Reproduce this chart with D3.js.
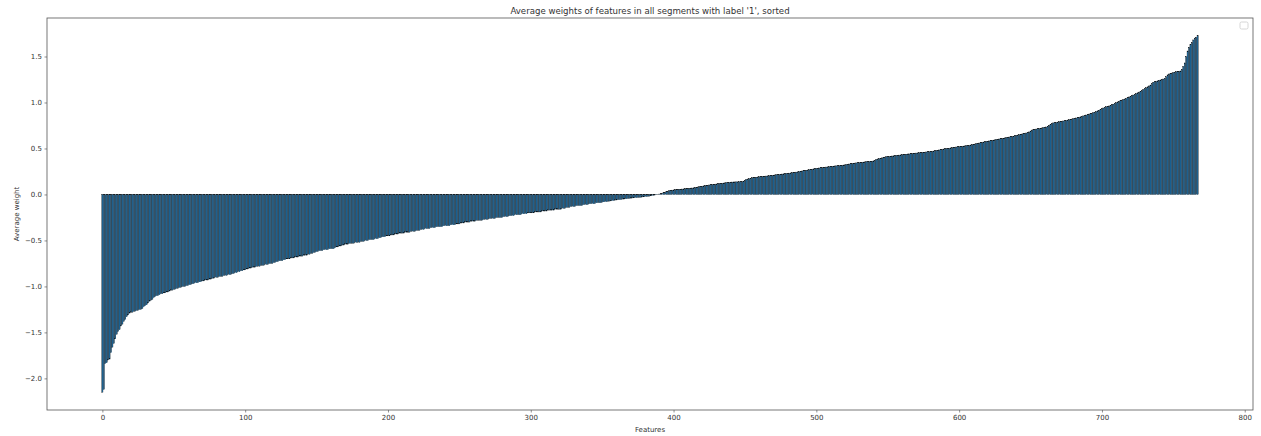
<!DOCTYPE html>
<html>
<head>
<meta charset="utf-8">
<script src="https://cdn.jsdelivr.net/npm/d3@7"></script>
<style>
  html, body { margin: 0; padding: 0; background: #fff; }
  svg { display: block; }
  text { font-family: "DejaVu Sans", sans-serif; fill: #333; }
</style>
</head>
<body>
<svg id="chart" width="1261" height="436"></svg>
<script>
const titleText = "Average weights of features in all segments with label '1', sorted";
const xLabel = "Features";
const yLabel = "Average weight";
const xTicks = [0, 100, 200, 300, 400, 500, 600, 700, 800];
const yTicks = [-2.0, -1.5, -1.0, -0.5, 0.0, 0.5, 1.0, 1.5];

const values = [
-2.15,-2.12,-1.84,-1.83,-1.80,-1.79,-1.72,-1.66,-1.62,-1.57,
-1.52,-1.49,-1.47,-1.43,-1.41,-1.38,-1.36,-1.33,-1.31,-1.29,
-1.28,-1.28,-1.27,-1.27,-1.26,-1.26,-1.25,-1.25,-1.24,-1.22,
-1.21,-1.20,-1.18,-1.16,-1.15,-1.14,-1.12,-1.11,-1.10,-1.10,
-1.09,-1.08,-1.08,-1.07,-1.07,-1.06,-1.06,-1.05,-1.04,-1.04,
-1.03,-1.03,-1.02,-1.02,-1.01,-1.01,-1.00,-1.00,-1.00,-0.99,
-0.99,-0.98,-0.98,-0.97,-0.97,-0.96,-0.96,-0.96,-0.95,-0.95,
-0.94,-0.94,-0.93,-0.93,-0.93,-0.92,-0.92,-0.91,-0.91,-0.90,
-0.90,-0.90,-0.89,-0.89,-0.89,-0.88,-0.88,-0.88,-0.87,-0.87,
-0.87,-0.86,-0.86,-0.85,-0.85,-0.84,-0.84,-0.83,-0.83,-0.82,
-0.82,-0.81,-0.81,-0.80,-0.80,-0.79,-0.79,-0.79,-0.78,-0.78,
-0.78,-0.77,-0.77,-0.77,-0.76,-0.76,-0.76,-0.75,-0.75,-0.75,
-0.74,-0.74,-0.73,-0.73,-0.72,-0.72,-0.72,-0.71,-0.71,-0.70,
-0.70,-0.70,-0.69,-0.69,-0.69,-0.68,-0.68,-0.68,-0.67,-0.67,
-0.67,-0.66,-0.66,-0.66,-0.65,-0.65,-0.64,-0.64,-0.63,-0.63,
-0.62,-0.62,-0.61,-0.61,-0.61,-0.60,-0.60,-0.60,-0.60,-0.59,
-0.59,-0.59,-0.59,-0.58,-0.57,-0.57,-0.56,-0.56,-0.55,-0.55,
-0.54,-0.54,-0.54,-0.53,-0.53,-0.53,-0.53,-0.52,-0.52,-0.52,
-0.52,-0.51,-0.51,-0.51,-0.50,-0.50,-0.50,-0.49,-0.49,-0.49,
-0.49,-0.48,-0.48,-0.48,-0.47,-0.47,-0.46,-0.46,-0.46,-0.45,
-0.45,-0.45,-0.44,-0.44,-0.44,-0.43,-0.43,-0.43,-0.42,-0.42,
-0.42,-0.42,-0.41,-0.41,-0.41,-0.41,-0.40,-0.40,-0.40,-0.40,
-0.39,-0.39,-0.39,-0.38,-0.38,-0.38,-0.37,-0.37,-0.37,-0.37,
-0.36,-0.36,-0.36,-0.36,-0.35,-0.35,-0.35,-0.35,-0.35,-0.34,
-0.34,-0.34,-0.34,-0.34,-0.33,-0.33,-0.33,-0.33,-0.32,-0.32,
-0.32,-0.31,-0.31,-0.31,-0.30,-0.30,-0.30,-0.30,-0.29,-0.29,
-0.29,-0.29,-0.28,-0.28,-0.28,-0.28,-0.28,-0.27,-0.27,-0.27,
-0.27,-0.26,-0.26,-0.26,-0.26,-0.26,-0.25,-0.25,-0.25,-0.25,
-0.25,-0.24,-0.24,-0.24,-0.24,-0.23,-0.23,-0.23,-0.23,-0.22,
-0.22,-0.22,-0.22,-0.22,-0.21,-0.21,-0.21,-0.21,-0.20,-0.20,
-0.20,-0.20,-0.20,-0.19,-0.19,-0.19,-0.19,-0.19,-0.18,-0.18,
-0.18,-0.18,-0.17,-0.17,-0.17,-0.17,-0.17,-0.16,-0.16,-0.16,
-0.16,-0.16,-0.15,-0.15,-0.15,-0.14,-0.14,-0.14,-0.13,-0.13,
-0.13,-0.13,-0.12,-0.12,-0.12,-0.12,-0.12,-0.11,-0.11,-0.11,
-0.11,-0.10,-0.10,-0.10,-0.10,-0.10,-0.09,-0.09,-0.09,-0.09,
-0.085,-0.08,-0.08,-0.078,-0.075,-0.072,-0.07,-0.068,-0.065,-0.062,
-0.06,-0.058,-0.056,-0.055,-0.052,-0.05,-0.048,-0.046,-0.044,-0.042,
-0.04,-0.039,-0.037,-0.036,-0.034,-0.032,-0.031,-0.03,-0.028,-0.026,
-0.024,-0.022,-0.02,-0.018,-0.015,-0.012,-0.009,-0.006,-0.003,0.001,
0.004,0.008,0.012,0.018,0.024,0.03,0.036,0.04,0.044,0.047,
0.049,0.051,0.053,0.055,0.056,0.057,0.059,0.06,0.062,0.063,
0.065,0.067,0.069,0.07,0.072,0.075,0.078,0.081,0.084,0.087,
0.09,0.093,0.096,0.098,0.10,0.103,0.106,0.108,0.11,0.112,
0.114,0.116,0.118,0.12,0.122,0.124,0.126,0.128,0.13,0.132,
0.134,0.135,0.136,0.136,0.137,0.137,0.138,0.138,0.139,0.145,
0.155,0.163,0.168,0.172,0.177,0.181,0.184,0.186,0.188,0.19,
0.192,0.194,0.196,0.197,0.199,0.20,0.202,0.204,0.206,0.208,
0.21,0.212,0.214,0.216,0.218,0.22,0.222,0.224,0.226,0.228,
0.23,0.232,0.234,0.236,0.238,0.24,0.243,0.246,0.249,0.252,
0.255,0.258,0.261,0.264,0.266,0.269,0.272,0.275,0.278,0.281,
0.283,0.285,0.288,0.29,0.292,0.294,0.296,0.298,0.30,0.302,
0.304,0.306,0.308,0.31,0.311,0.312,0.314,0.316,0.318,0.32,
0.322,0.325,0.328,0.331,0.334,0.337,0.339,0.341,0.343,0.345,
0.347,0.349,0.35,0.352,0.354,0.356,0.358,0.359,0.36,0.362,
0.365,0.372,0.38,0.386,0.39,0.394,0.398,0.402,0.406,0.41,
0.412,0.414,0.416,0.418,0.42,0.422,0.424,0.426,0.428,0.43,
0.432,0.434,0.436,0.438,0.44,0.441,0.443,0.445,0.447,0.449,
0.45,0.452,0.454,0.455,0.457,0.459,0.46,0.462,0.464,0.465,
0.466,0.469,0.472,0.475,0.478,0.481,0.484,0.487,0.49,0.494,
0.497,0.499,0.501,0.503,0.506,0.508,0.511,0.513,0.516,0.518,
0.52,0.522,0.524,0.526,0.528,0.53,0.532,0.535,0.538,0.541,
0.545,0.548,0.552,0.555,0.559,0.562,0.566,0.57,0.573,0.576,
0.579,0.582,0.585,0.588,0.591,0.594,0.597,0.60,0.603,0.606,
0.609,0.612,0.615,0.618,0.621,0.624,0.627,0.63,0.634,0.638,
0.642,0.646,0.65,0.654,0.657,0.66,0.664,0.668,0.672,0.68,
0.69,0.70,0.705,0.708,0.711,0.714,0.717,0.72,0.723,0.727,
0.73,0.734,0.742,0.752,0.762,0.772,0.778,0.781,0.784,0.787,
0.79,0.793,0.796,0.799,0.802,0.806,0.809,0.812,0.816,0.82,
0.824,0.828,0.832,0.836,0.84,0.844,0.849,0.854,0.859,0.864,
0.869,0.874,0.879,0.884,0.889,0.895,0.902,0.909,0.916,0.924,
0.932,0.94,0.947,0.954,0.958,0.962,0.968,0.975,0.982,0.99,
0.998,1.006,1.014,1.02,1.026,1.032,1.038,1.045,1.052,1.06,
1.067,1.074,1.081,1.089,1.097,1.105,1.113,1.12,1.13,1.14,
1.15,1.16,1.17,1.18,1.19,1.205,1.22,1.225,1.23,1.235,
1.24,1.245,1.25,1.255,1.26,1.28,1.30,1.31,1.315,1.32,
1.325,1.33,1.335,1.338,1.34,1.343,1.36,1.39,1.43,1.50,
1.56,1.60,1.63,1.65,1.68,1.70,1.71,1.725
];

const svg = d3.select("#chart");
const mLeft = 47, mRight = 1253, mTop = 18, mBottom = 410;
const barW = 0.8;
const n = values.length;

const xMin = -barW / 2, xMax = (n - 1) + barW / 2;
const xPad = 0.05 * (xMax - xMin);
const x = d3.scaleLinear().domain([xMin - xPad, xMax + xPad]).range([mLeft, mRight]);

const vMin = Math.min(0, d3.min(values)), vMax = Math.max(0, d3.max(values));
const yPad = 0.05 * (vMax - vMin);
const y = d3.scaleLinear().domain([vMin - yPad, vMax + yPad]).range([mBottom, mTop]);

// bars
svg.append("g")
  .selectAll("rect")
  .data(values)
  .join("rect")
  .attr("x", (d, i) => x(i - barW / 2))
  .attr("width", x(barW) - x(0))
  .attr("y", d => y(Math.max(0, d)))
  .attr("height", d => Math.abs(y(d) - y(0)))
  .attr("fill", "#1f77b4")
  .attr("stroke", "#000")
  .attr("stroke-width", 0.35);

const fmtY = d => (d < 0 ? "\u2212" : "") + Math.abs(d).toFixed(1);

// x axis
const xAxis = d3.axisBottom(x).tickValues(xTicks).tickSize(2.5).tickPadding(2.5).tickFormat(d3.format("d"));
const gx = svg.append("g").attr("transform", `translate(0,${mBottom})`).call(xAxis);
gx.select(".domain").remove();
gx.selectAll("line").attr("stroke", "#444").attr("stroke-width", 0.6);
gx.selectAll("text").attr("font-size", 7).attr("fill", "#333").attr("font-family", "DejaVu Sans");

// y axis
const yAxis = d3.axisLeft(y).tickValues(yTicks).tickSize(2.5).tickPadding(2.5).tickFormat(fmtY);
const gy = svg.append("g").attr("transform", `translate(${mLeft},0)`).call(yAxis);
gy.select(".domain").remove();
gy.selectAll("line").attr("stroke", "#444").attr("stroke-width", 0.6);
gy.selectAll("text").attr("font-size", 7).attr("fill", "#333").attr("font-family", "DejaVu Sans");

// frame
svg.append("rect")
  .attr("x", mLeft).attr("y", mTop)
  .attr("width", mRight - mLeft).attr("height", mBottom - mTop)
  .attr("fill", "none").attr("stroke", "#555").attr("stroke-width", 0.8);

// title
svg.append("text")
  .attr("x", (mLeft + mRight) / 2).attr("y", 14)
  .attr("text-anchor", "middle")
  .attr("font-size", 8.6)
  .text(titleText);

// axis labels
svg.append("text")
  .attr("x", (mLeft + mRight) / 2).attr("y", 432)
  .attr("text-anchor", "middle")
  .attr("font-size", 7)
  .text(xLabel);

svg.append("text")
  .attr("transform", `translate(18.5,${(mTop + mBottom) / 2}) rotate(-90)`)
  .attr("text-anchor", "middle")
  .attr("font-size", 7)
  .text(yLabel);

// empty legend box
svg.append("rect")
  .attr("x", mRight - 13).attr("y", 22)
  .attr("width", 8).attr("height", 7).attr("rx", 1.5)
  .attr("fill", "#fff").attr("stroke", "#ccc").attr("stroke-width", 0.8);
</script>
</body>
</html>
